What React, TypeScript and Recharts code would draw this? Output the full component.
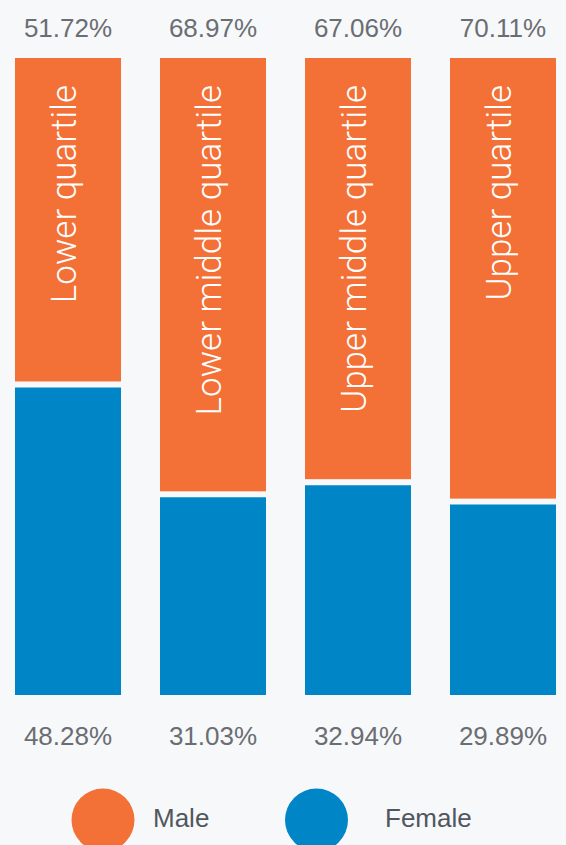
import React from "react";
import { BarChart, Bar, XAxis, YAxis, LabelList, Legend } from "recharts";

const CATEGORIES = ["Lower quartile", "Lower middle quartile", "Upper middle quartile", "Upper quartile"];
const MALE = [51.72, 68.97, 67.06, 70.11];
const FEMALE = [48.28, 31.03, 32.94, 29.89];
const SERIES = [
  { key: "male", name: "Male", color: "#F37036" },
  { key: "female", name: "Female", color: "#0086C6" },
];
const LEGEND_ORDER = ["Male", "Female"];

const data = CATEGORIES.map((category, i) => ({ category, male: MALE[i], female: FEMALE[i] }));

const BG = "#F7F8FA";
const GAP = 6;
const LEGEND_H = 56;
const PCT_FONT = "'Liberation Sans', Arial, Helvetica, sans-serif";
const PCT_COLOR = "#6A6E73";

const fmt = (v: any) => `${Number(v).toFixed(2)}%`;

const MaleShape = (props: any) => {
  const { x, y, width, height, fill } = props;
  return <rect x={x} y={y} width={width} height={Math.max(0, height - GAP)} fill={fill} />;
};

const TopLabel = (props: any) => {
  const x = Number(props.x), y = Number(props.y), w = Number(props.width);
  return (
    <text x={x + w / 2} y={y - 21} textAnchor="middle" fontFamily={PCT_FONT} fontSize={26} fill={PCT_COLOR}>
      {fmt(props.value)}
    </text>
  );
};

const BottomLabel = (props: any) => {
  const x = Number(props.x), y = Number(props.y), w = Number(props.width), h = Number(props.height);
  return (
    <text x={x + w / 2} y={y + h + 50} textAnchor="middle" fontFamily={PCT_FONT} fontSize={26} fill={PCT_COLOR}>
      {fmt(props.value)}
    </text>
  );
};

const CategoryLabel = (props: any) => {
  const x = Number(props.x), y = Number(props.y), w = Number(props.width);
  const bx = x + w / 2 + 7.5;
  const by = y + 27;
  return (
    <text
      x={bx}
      y={by}
      transform={`rotate(-90 ${bx} ${by})`}
      textAnchor="end"
      fontFamily="Roboto, 'Liberation Sans', sans-serif"
      fontWeight={300}
      fontSize={35}
      fill="#FFFFFF"
    >
      {props.value}
    </text>
  );
};

const LegendContent = (props: any) => {
  const payload: any[] = props.payload || [];
  const items = LEGEND_ORDER.map((n) => payload.find((p) => p.value === n)).filter(Boolean);
  const circleX = [108, 321.5];
  const textX = [158, 390];
  return (
    <svg width={580} height={LEGEND_H} style={{ display: "block", overflow: "visible" }}>
      {items.map((p: any, i: number) => (
        <g key={p.value}>
          <circle cx={circleX[i]} cy={31} r={31.5} fill={p.color} />
          <text x={textX[i]} y={38} fontFamily={PCT_FONT} fontSize={26} fill="#50575E">
            {p.value}
          </text>
        </g>
      ))}
    </svg>
  );
};

export default function App() {
  return (
    <div style={{ position: "fixed", left: 0, top: 0, width: 566, height: 845, overflow: "hidden", background: BG }}>
      <div style={{ position: "absolute", left: -5, top: 0 }}>
        <BarChart
          width={580}
          height={845}
          data={data}
          margin={{ top: 58, right: 0, bottom: 150 - LEGEND_H, left: 0 }}
        >
          <XAxis dataKey="category" hide />
          <YAxis hide domain={[0, 100]} />
          <Legend
            verticalAlign="bottom"
            content={<LegendContent />}
            wrapperStyle={{ top: 789, left: 0, bottom: "auto", width: 580, height: LEGEND_H }}
          />
          <Bar
            dataKey="female"
            name={SERIES[1].name}
            stackId="a"
            fill={SERIES[1].color}
            barSize={106}
            isAnimationActive={false}
          >
            <LabelList dataKey="female" content={<BottomLabel />} />
          </Bar>
          <Bar
            dataKey="male"
            name={SERIES[0].name}
            stackId="a"
            fill={SERIES[0].color}
            barSize={106}
            shape={<MaleShape />}
            isAnimationActive={false}
          >
            <LabelList dataKey="male" content={<TopLabel />} />
            <LabelList dataKey="category" content={<CategoryLabel />} />
          </Bar>
        </BarChart>
      </div>
    </div>
  );
}
